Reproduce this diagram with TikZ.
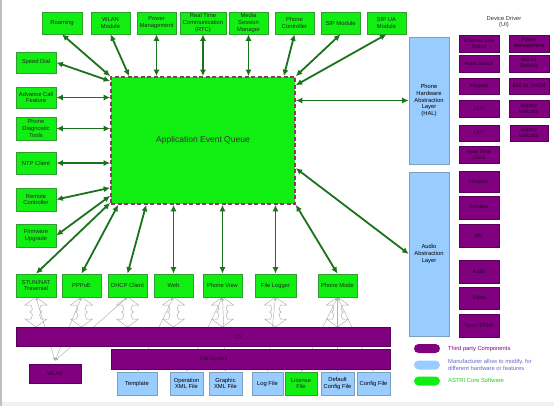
\documentclass[tikz,border=0pt]{standalone}
\usepackage{fontspec}
\setmainfont{Liberation Sans}
\usetikzlibrary{arrows.meta,calc}
\pgfdeclarelayer{back}
\pgfsetlayers{back,main}
\definecolor{gfill}{HTML}{11EE11}
\definecolor{gborder}{HTML}{2E9E2E}
\definecolor{arr}{HTML}{1A731A}
\definecolor{purp}{HTML}{800080}
\definecolor{pborder}{HTML}{5A005A}
\definecolor{lblue}{HTML}{99CCFF}
\definecolor{bborder}{HTML}{7F9FBF}
\definecolor{dashc}{HTML}{993366}
\definecolor{legblue}{HTML}{6666CC}
\definecolor{leggreen}{HTML}{22CC22}
\tikzset{
  base/.style={draw, line width=0.6pt, inner sep=0pt, align=center, font=\fontsize{5.8}{6.8}\selectfont},
  gbox/.style={base, fill=gfill, draw=gborder, text=black!85},
  bbox/.style={base, fill=lblue, draw=bborder, text=black},
  pbox/.style={base, fill=purp, draw=pborder, text=black!70!purp, font=\fontsize{5.2}{6}\selectfont},
  garr/.style={draw=arr, line width=1.8pt, {Latex[length=6.5pt,width=6pt]}-{Latex[length=6.5pt,width=6pt]}},
  tarr/.style={draw=gray!60, line width=0.45pt, {Latex[length=3pt,width=3pt]}-{Latex[length=3pt,width=3pt]}},
  hollow/.style={draw=gray!60, fill=white, line width=0.5pt},
  pill/.style={draw=none, minimum width=26pt, minimum height=9pt, rounded corners=4.5pt, inner sep=0pt},
  legtext/.style={anchor=west, align=left, inner sep=0pt, font=\fontsize{5.8}{6.8}\selectfont},
  updown/.pic={\path[hollow] (0,-15) -- (11,-7) -- (5,-7)
     .. controls (3,-5) and (3,-1) .. (6,0) .. controls (3,1) and (3,5) .. (5,7)
     -- (11,7) -- (0,15) -- (-11,7) -- (-5,7)
     .. controls (-3,5) and (-3,1) .. (-6,0) .. controls (-3,-1) and (-3,-5) .. (-5,-7)
     -- (-11,-7) -- cycle;}
}
\begin{document}
\begin{tikzpicture}[x=1pt,y=-1pt]
\useasboundingbox (0,0) rectangle (554,406);
\begin{pgfonlayer}{back}
\fill[white] (0,0) rectangle (554,406);
\fill[gray!12] (0,402) rectangle (554,406);
\draw[gray!50, line width=1.5pt] (0.75,0) -- (0.75,406);
\end{pgfonlayer}

% top row
\node[gbox, minimum width=40pt, minimum height=22pt] (roam) at (62,23) {Roaming};
\node[gbox, minimum width=39pt, minimum height=22pt] (wlanm) at (110.5,23) {WLAN\\Module};
\node[gbox, minimum width=39pt, minimum height=22pt] (powm) at (156.5,23) {Power\\Management};
\node[gbox, minimum width=46pt, minimum height=22pt] (rtc) at (203,23) {Real Time\\Communication\\(RTC)};
\node[gbox, minimum width=39pt, minimum height=22pt] (msm) at (248.5,23) {Media\\Session\\Manager};
\node[gbox, minimum width=39pt, minimum height=22pt] (pctl) at (294.5,23) {Phone\\Controller};
\node[gbox, minimum width=39pt, minimum height=22pt] (sip) at (340.5,23) {SIP Module};
\node[gbox, minimum width=39pt, minimum height=22pt] (sipua) at (386.5,23) {SIP UA\\Module};

% left column
\node[gbox, minimum width=40pt, minimum height=21pt] (speed) at (36,62.5) {Speed Dial};
\node[gbox, minimum width=40pt, minimum height=21pt] (adv) at (36,97.5) {Advance Call\\Feature};
\node[gbox, minimum width=40pt, minimum height=23pt] (diag) at (36,128.5) {Phone\\Diagnostic\\Tools};
\node[gbox, minimum width=40pt, minimum height=22pt] (ntp) at (36,163) {NTP Client};
\node[gbox, minimum width=40pt, minimum height=23pt] (remote) at (36,199.5) {Remote\\Controller};
\node[gbox, minimum width=40pt, minimum height=23pt] (firm) at (36,235.5) {Firmware\\Upgrade};

% bottom row
\node[gbox, minimum width=40pt, minimum height=23pt] (stun) at (36,285.5) {STUN/NAT\\Traversal};
\node[gbox, minimum width=39pt, minimum height=23pt] (pppoe) at (81.5,285.5) {PPPoE};
\node[gbox, minimum width=39pt, minimum height=23pt] (dhcp) at (127.5,285.5) {DHCP Client};
\node[gbox, minimum width=39pt, minimum height=23pt] (web) at (173.5,285.5) {Web};
\node[gbox, minimum width=39pt, minimum height=23pt] (pview) at (222.5,285.5) {Phone View};
\node[gbox, minimum width=41pt, minimum height=23pt] (flog) at (275.5,285.5) {File Logger};
\node[gbox, minimum width=39pt, minimum height=23pt] (pmode) at (337.5,285.5) {Phone Mode};

% central queue
\node[fill=gfill, draw=dashc, line width=1.6pt, dash pattern=on 4pt off 2.5pt,
      minimum width=184pt, minimum height=127pt, inner sep=0pt, text=black!80,
      font=\fontsize{8.5}{10}\selectfont] (aeq) at (203,140.5) {Application Event Queue};

% HAL / audio layer
\node[bbox, minimum width=40pt, minimum height=127pt] (hal) at (429,100.5) {Phone\\Hardware\\Abstraction\\Layer\\(HAL)};
\node[bbox, minimum width=40pt, minimum height=164pt] (audio) at (429,254) {Audio\\Abstraction\\Layer};

% device drivers
\node[font=\fontsize{5.8}{6.8}\selectfont, align=center, text=black!80, inner sep=0pt] (ddt) at (504,22) {Device Driver\\(UI)};
\node[pbox, minimum width=40pt, minimum height=17pt] (eth) at (479,43.5) {Ethernet Link\\Status};
\node[pbox, minimum width=40pt, minimum height=17pt] (ppm) at (529,43.5) {Power\\Management};
\node[pbox, minimum width=40pt, minimum height=17pt] (hook) at (479,63.5) {Hook Switch};
\node[pbox, minimum width=40pt, minimum height=17pt] (sec) at (529,63.5) {802.11\\Security};
\node[pbox, minimum width=40pt, minimum height=16pt] (keypad) at (479,86) {Keypad};
\node[pbox, minimum width=40pt, minimum height=16pt] (dotp) at (529,86) {802.1p On/Off};
\node[pbox, minimum width=40pt, minimum height=17pt] (lcd) at (479,108.5) {LCD};
\node[pbox, minimum width=40pt, minimum height=17pt] (bat1) at (529,108.5) {Battery\\Indicator};
\node[pbox, minimum width=40pt, minimum height=16pt] (led) at (479,133) {LED};
\node[pbox, minimum width=38pt, minimum height=16pt] (bat2) at (529,133) {Battery\\Indicator};
\node[pbox, minimum width=40pt, minimum height=17pt] (rtclk) at (479,154.5) {Real Time\\Clock};
\node[pbox, minimum width=40pt, minimum height=21pt] (headset) at (479,181.5) {Headset};
\node[pbox, minimum width=40pt, minimum height=23pt] (speaker) at (479,207.5) {Speaker};
\node[pbox, minimum width=40pt, minimum height=23pt] (mic) at (479,235.5) {Mic};
\node[pbox, minimum width=40pt, minimum height=23pt] (audiod) at (479,271.5) {Audio};
\node[pbox, minimum width=40pt, minimum height=22pt] (video) at (479,298) {Video};
\node[pbox, minimum width=40pt, minimum height=23pt] (tone) at (479,325.5) {Tone / DTMF};

% bars
\node[pbox, minimum width=374pt, minimum height=19pt] (os) at (203,336.5) {};
\node[text=black!70!purp, font=\fontsize{5.2}{6}\selectfont, inner sep=0pt] (ostext) at (238,336.5) {OS};
\node[pbox, minimum width=279pt, minimum height=20pt] (fs) at (250.5,359) {};
\node[text=black!70!purp, font=\fontsize{5.2}{6}\selectfont, inner sep=0pt] (fstext) at (214,359) {File System};
\node[pbox, minimum width=52pt, minimum height=19pt] (wlan) at (55,373.5) {WLAN};

% files
\node[bbox, minimum width=40pt, minimum height=23pt] (tmpl) at (137,383.5) {Template};
\node[bbox, minimum width=33pt, minimum height=23pt] (opxml) at (186.5,383.5) {Operation\\XML File};
\node[bbox, minimum width=33pt, minimum height=23pt] (grxml) at (225.5,383.5) {Graphic\\XML File};
\node[bbox, minimum width=31pt, minimum height=23pt] (logf) at (267.5,383.5) {Log File};
\node[gbox, minimum width=32pt, minimum height=23pt] (lic) at (301,383.5) {License\\File};
\node[bbox, minimum width=33pt, minimum height=23pt] (defc) at (337.5,383.5) {Default\\Config File};
\node[bbox, minimum width=33pt, minimum height=23pt] (cfg) at (373.5,383.5) {Config File};

% hollow double arrows and thin connectors, behind the bars
\begin{pgfonlayer}{back}
\foreach \xx in {36,81.5,127.5,173.5,222.5,275.5,337.5} { \pic at (\xx,312) {updown}; }
\draw[tarr] (stun.south) -- ($(wlan.north)+(0,-3)$);
\draw[tarr] (pppoe.south) -- ($(wlan.north)+(0,-3)$);
\draw[tarr] (dhcp.south) -- ($(wlan.north)+(0,-3)$);
\draw[tarr] (web.south) -- (tmpl.north);
\draw[tarr] (pview.south) -- (opxml.north);
\draw[tarr] (pview.south) -- (grxml.north);
\draw[tarr] (flog.south) -- (logf.north);
\draw[tarr] (pmode.south) -- (lic.north);
\draw[tarr] (pmode.south) -- (defc.north);
\draw[tarr] (pmode.south) -- (cfg.north);
\end{pgfonlayer}

% green connectors
\draw[garr] (roam.south) -- (aeq.north west);
\draw[garr] (wlanm.south) -- ($(aeq.north west)+(19,0)$);
\draw[garr] (powm.south) -- (powm.south |- aeq.north);
\draw[garr] (rtc.south) -- (rtc.south |- aeq.north);
\draw[garr] (msm.south) -- (msm.south |- aeq.north);
\draw[garr] (pctl.south) -- ($(aeq.north east)+(-12,0)$);
\draw[garr] (sip.south) -- (aeq.north east);
\draw[garr] (sipua.south) -- ($(aeq.north east)+(0,9)$);
\draw[garr] (hal.west -| aeq.east) -- (hal.west);
\draw[garr] ($(aeq.north east)+(0,92)$) -- (audio.west);
\draw[garr] (aeq.south east) -- (pmode.north);
\draw[garr] (flog.north) -- (flog.north |- aeq.south);
\draw[garr] (pview.north) -- (pview.north |- aeq.south);
\draw[garr] (web.north) -- (web.north |- aeq.south);
\draw[garr] (dhcp.north) -- ($(aeq.south west)+(36,0)$);
\draw[garr] (pppoe.north) -- ($(aeq.south west)+(8,0)$);
\draw[garr] (stun.north) -- ($(aeq.south west)+(0,-2)$);
\draw[garr] (firm.east) -- ($(aeq.south west)+(0,-9)$);
\draw[garr] (remote.east) -- ($(aeq.south west)+(0,-17)$);
\draw[garr] (ntp.east) -- (ntp.east -| aeq.west);
\draw[garr] (diag.east) -- (diag.east -| aeq.west);
\draw[garr] (adv.east) -- (adv.east -| aeq.west);
\draw[garr] (speed.east) -- ($(aeq.north west)+(0,5)$);

% legend
\node[pill, fill=purp] (lp) at (427,348.5) {};
\node[legtext, text=purp] (lpt) at (448,349) {Third party Components};
\node[pill, fill=lblue] (lb) at (427,365) {};
\node[legtext, text=legblue] (lbt) at (448,365) {Manufacturer allow to modify, for\\different hardware or features};
\node[pill, fill=gfill] (lg) at (427,381) {};
\node[legtext, text=leggreen] (lgt) at (448,380.5) {ASTRI Core Software};
\end{tikzpicture}
\end{document}
